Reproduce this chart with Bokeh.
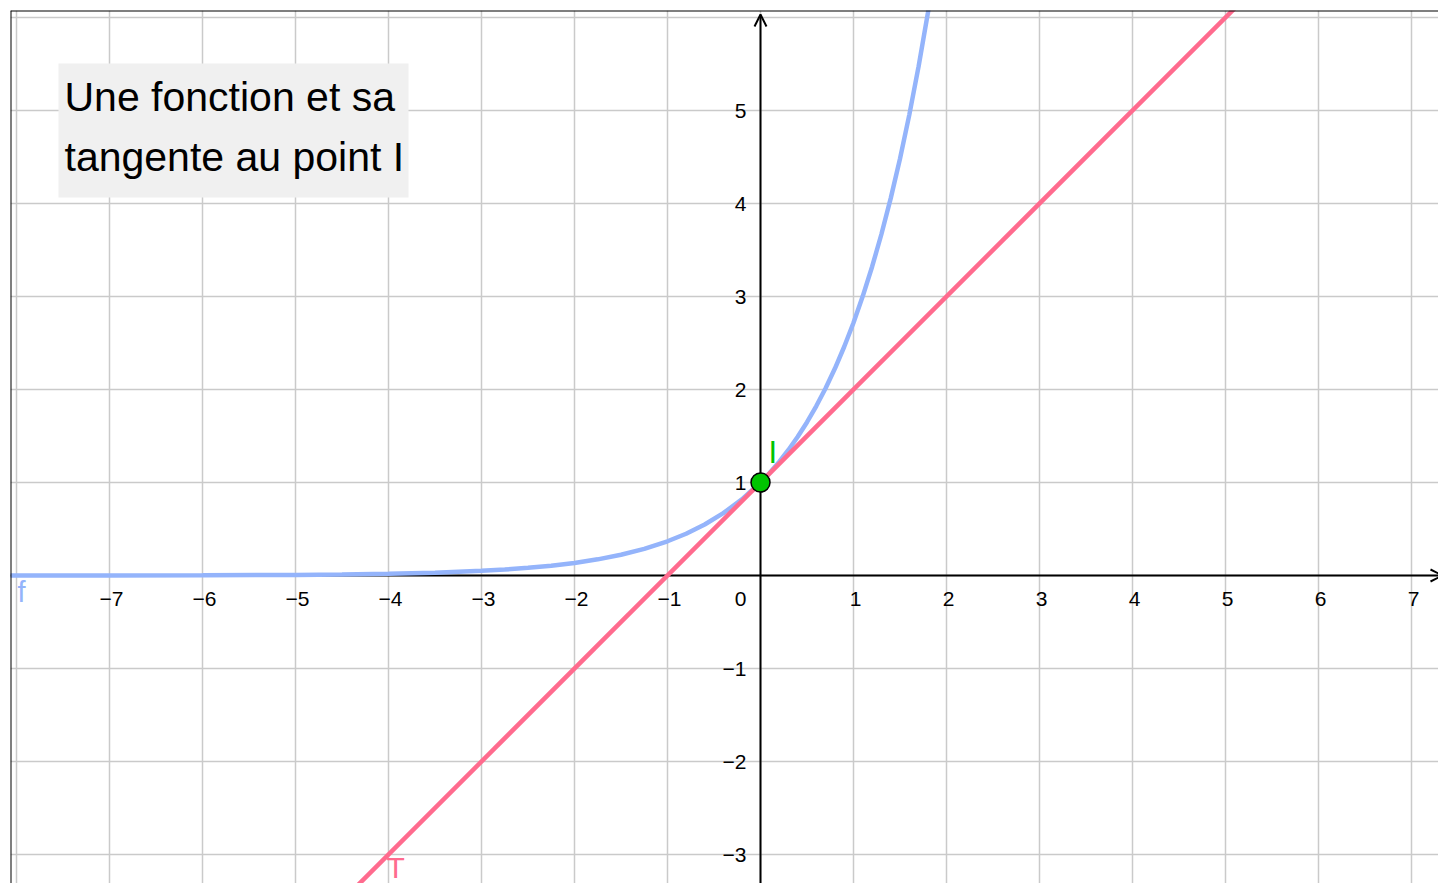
from bokeh.plotting import figure
from bokeh.models import Range1d, Grid, SingleIntervalTicker, Span, Arrow, OpenHead
from bokeh.core.properties import value
from bokeh.embed import file_html
from bokeh.resources import INLINE

# ---- data ----
f_x = [-8.2, -7, -6, -5, -4.5, -4, -3.5, -3, -2.75, -2.5, -2.25, -2, -1.75, -1.5,
       -1.25, -1, -0.8, -0.6, -0.4, -0.2, 0, 0.1, 0.2, 0.3, 0.4, 0.5, 0.6, 0.7,
       0.8, 0.9, 1.0, 1.1, 1.2, 1.3, 1.4, 1.5, 1.6, 1.7, 1.8, 1.85]
f_y = [0.0003, 0.0009, 0.0025, 0.0067, 0.0111, 0.0183, 0.0302, 0.0498, 0.0639,
       0.0821, 0.1054, 0.1353, 0.1738, 0.2231, 0.2865, 0.3679, 0.4493, 0.5488,
       0.6703, 0.8187, 1.0, 1.1052, 1.2214, 1.3499, 1.4918, 1.6487, 1.8221,
       2.0138, 2.2255, 2.4596, 2.7183, 3.0042, 3.3201, 3.6693, 4.0552, 4.4817,
       4.9530, 5.4739, 6.0496, 6.3598]
t_x = [-4.6, 5.6]
t_y = [-3.6, 6.6]
point_x = [0]
point_y = [1]
x_ticks = [-7, -6, -5, -4, -3, -2, -1, 1, 2, 3, 4, 5, 6, 7]
x_tick_labels = ["\u22127", "\u22126", "\u22125", "\u22124", "\u22123", "\u22122", "\u22121",
                 "1", "2", "3", "4", "5", "6", "7"]
y_ticks = [-3, -2, -1, 1, 2, 3, 4, 5]
y_tick_labels = ["\u22123", "\u22122", "\u22121", "1", "2", "3", "4", "5"]
title_lines = ["Une fonction et sa", "tangente au point I"]

# ---- layout (pixel geometry of the reference) ----
OX, OY, UNIT = 760.0, 575.0, 93.0


def px2x(px):
    return (px - OX) / UNIT


def py2y(py):
    return (OY - py) / UNIT


FONT = value("Liberation Sans")
BLUE = "#94b4fb"
PINK = "#ff6b8e"
GREEN = "#00c400"

x0, x1 = px2x(10), px2x(1438)
y0, y1 = py2y(883), py2y(10)

p = figure(width=1438, height=883, x_range=Range1d(x0, x1), y_range=Range1d(y0, y1),
           x_axis_type=None, y_axis_type=None, output_backend="svg", toolbar_location=None,
           min_border_left=10, min_border_top=10, min_border_right=0, min_border_bottom=0,
           outline_line_color=None, background_fill_color="white", border_fill_color="white")

p.add_layout(Grid(dimension=0, ticker=SingleIntervalTicker(interval=1),
                  grid_line_color="#cacaca", grid_line_width=1.5))
p.add_layout(Grid(dimension=1, ticker=SingleIntervalTicker(interval=1),
                  grid_line_color="#cacaca", grid_line_width=1.5))

# frame lines (top and left)
p.add_layout(Span(location=y1, dimension="width", line_color="black", line_width=2, level="overlay"))
p.add_layout(Span(location=x0, dimension="height", line_color="black", line_width=2, level="overlay"))

# axes with arrows
p.add_layout(Arrow(x_start=x0, y_start=0, x_end=px2x(1442), y_end=0, line_color="black", line_width=2,
                   end=OpenHead(size=12, line_width=2, line_color="black"), level="underlay"))
p.add_layout(Arrow(x_start=0, y_start=y0, x_end=0, y_end=py2y(14), line_color="black", line_width=2,
                   end=OpenHead(size=12, line_width=2, line_color="black"), level="underlay"))

# tick labels
p.text(x=x_ticks, y=[0] * len(x_ticks), text=x_tick_labels, text_align="center",
       text_baseline="middle", x_offset=2, y_offset=23, text_font=FONT,
       text_font_size="21px", text_color="black")
p.text(x=[0] * len(y_ticks), y=y_ticks, text=y_tick_labels, text_align="right",
       text_baseline="middle", x_offset=-14, y_offset=0, text_font=FONT,
       text_font_size="21px", text_color="black")
p.text(x=[0], y=[0], text=["0"], text_align="center", text_baseline="middle",
       x_offset=-20, y_offset=23, text_font=FONT, text_font_size="21px", text_color="black")

# title box
p.quad(left=[px2x(58)], right=[px2x(408)], top=[py2y(63)], bottom=[py2y(197)],
       fill_color="#f0f0f0", line_color=None)
p.text(x=[px2x(64), px2x(64)], y=[py2y(96), py2y(156)], text=title_lines,
       text_align="left", text_baseline="middle", text_font=FONT,
       text_font_size="41px", text_color="black")

# curves
p.line(f_x, f_y, line_color=BLUE, line_width=4.5)
p.line(t_x, t_y, line_color=PINK, line_width=4.5)
p.scatter(point_x, point_y, size=19, fill_color=GREEN, line_color="black", line_width=1.5)

# object labels
p.text(x=[px2x(17)], y=[py2y(591)], text=["f"], text_align="left", text_baseline="middle",
       text_font=FONT, text_font_size="29px", text_color=BLUE)
p.text(x=[px2x(768)], y=[py2y(452)], text=["I"], text_align="left", text_baseline="middle",
       text_font=FONT, text_font_size="31px", text_color=GREEN)
p.text(x=[px2x(386)], y=[py2y(867)], text=["T"], text_align="left", text_baseline="middle",
       text_font=FONT, text_font_size="30px", text_color=PINK)

open("out.html", "w").write(file_html(p, INLINE))
